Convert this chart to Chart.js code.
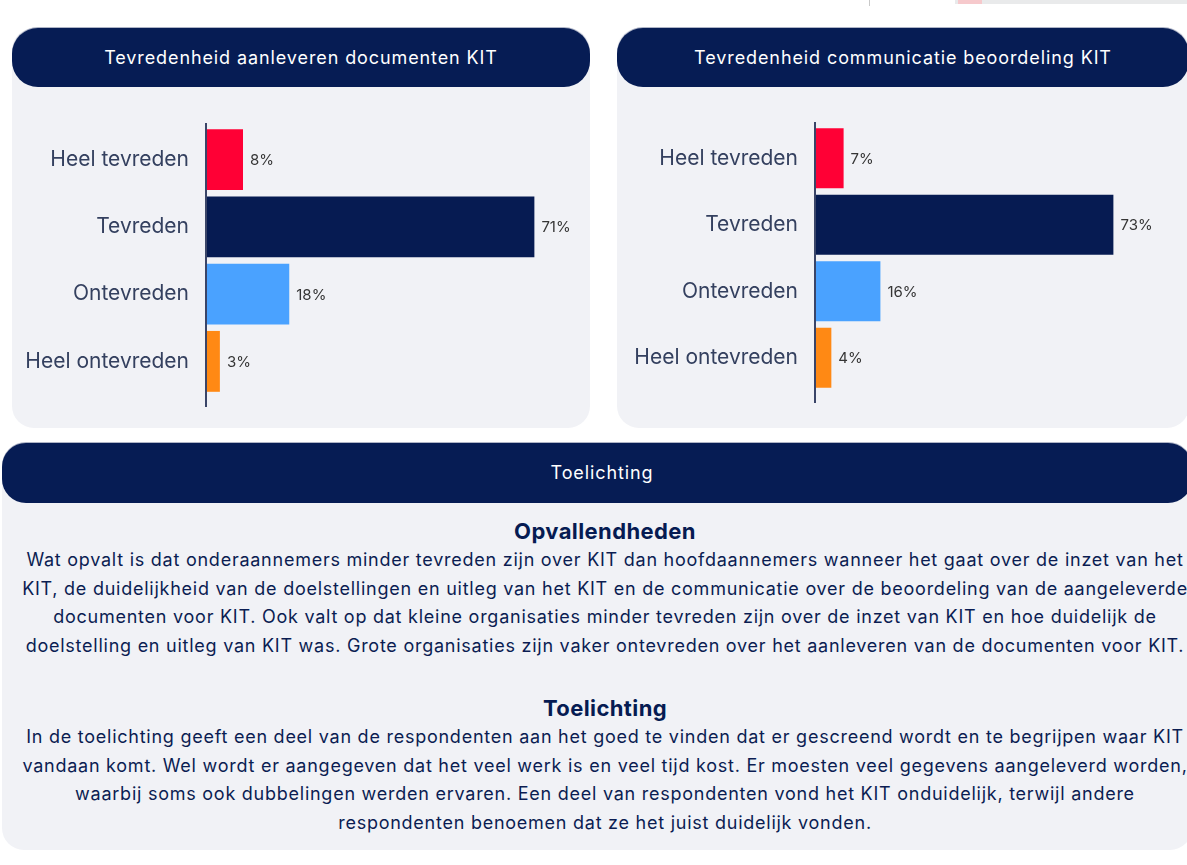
<!DOCTYPE html>
<html lang="nl">
<head>
<meta charset="utf-8">
<title>Tevredenheid KIT</title>
<script src="https://cdn.jsdelivr.net/npm/chart.js@4/dist/chart.umd.min.js"></script>
<style>
  html, body { margin: 0; padding: 0; background: #fff; }
  body { width: 1187px; height: 865px; position: relative; overflow: hidden; font-family: Inter, "Open Sans", sans-serif; }
  .card { position: absolute; background: #f1f2f6; border-radius: 22px; }
  .pill { position: absolute; left: 0; right: 0; top: 0; height: 59px; background: #061c54; border-radius: 26px;
          color: #fff; font-size: 18px; font-weight: 400; letter-spacing: 0.9px; line-height: 59px; text-align: center;
          box-shadow: 0 -1px 0 rgba(120,130,160,0.6); }
  .chartbox { position: absolute; }
  .text { position: absolute; left: 0; right: 0; text-align: center; color: #0b1d52; }
  .text h3 { margin: 0; font-size: 22px; font-weight: 700; letter-spacing: 0.4px; line-height: 30px; color: #061b52; }
  .text div { white-space: nowrap; font-size: 18px; letter-spacing: 0.75px; line-height: 28.5px; }
  .topline { position: absolute; top: 0; height: 4px; }
</style>
</head>
<body>
<div class="topline" style="left:869px;width:1px;height:6px;background:#c9c9c9"></div>
<div class="topline" style="left:955px;width:232px;background:#e9eaeb"></div>
<div class="topline" style="left:958px;width:24px;background:#f6c9cc"></div>

<div class="card" style="left:12px;top:28px;width:578px;height:400px">
  <div class="pill">Tevredenheid aanleveren documenten KIT</div>
</div>
<div class="card" style="left:617px;top:28px;width:572px;height:400px">
  <div class="pill">Tevredenheid communicatie beoordeling KIT</div>
</div>
<div class="chartbox" style="left:12px;top:110px;width:578px;height:300px"><canvas id="chartDocumenten"></canvas></div>
<div class="chartbox" style="left:617px;top:110px;width:572px;height:300px"><canvas id="chartCommunicatie"></canvas></div>

<div class="card" style="left:2px;top:443px;width:1190px;height:407px;border-radius:22px">
  <div class="pill" style="height:60px;line-height:60px;border-radius:24px;padding-left:10px">Toelichting</div>
  <div class="text" style="top:73px;padding-left:16px">
    <h3>Opvallendheden</h3>
    <div>Wat opvalt is dat onderaannemers minder tevreden zijn over KIT dan hoofdaannemers wanneer het gaat over de inzet van het</div>
    <div>KIT, de duidelijkheid van de doelstellingen en uitleg van het KIT en de communicatie over de beoordeling van de aangeleverde</div>
    <div>documenten voor KIT. Ook valt op dat kleine organisaties minder tevreden zijn over de inzet van KIT en hoe duidelijk de</div>
    <div>doelstelling en uitleg van KIT was. Grote organisaties zijn vaker ontevreden over het aanleveren van de documenten voor KIT.</div>
  </div>
  <div class="text" style="top:250px;padding-left:16px">
    <h3>Toelichting</h3>
    <div>In de toelichting geeft een deel van de respondenten aan het goed te vinden dat er gescreend wordt en te begrijpen waar KIT</div>
    <div>vandaan komt. Wel wordt er aangegeven dat het veel werk is en veel tijd kost. Er moesten veel gegevens aangeleverd worden,</div>
    <div>waarbij soms ook dubbelingen werden ervaren. Een deel van respondenten vond het KIT onduidelijk, terwijl andere</div>
    <div>respondenten benoemen dat ze het juist duidelijk vonden.</div>
  </div>
</div>

<script>
(function () {
    'use strict';

    const categories = ['Heel tevreden', 'Tevreden', 'Ontevreden', 'Heel ontevreden'];
    const documentenValues = [8, 71, 18, 3];
    const communicatieValues = [7, 73, 16, 4];
    const barColors = ['#ff0035', '#061b52', '#4aa2ff', '#ff8914'];

    // draws the % next to each bar and the vertical axis line
    const valueLabels = {
        id: 'valueLabels',
        afterDatasetsDraw(chart) {
            const ctx = chart.ctx;
            const meta = chart.getDatasetMeta(0);
            const values = chart.data.datasets[0].data;
            ctx.save();
            ctx.font = '15px Inter, sans-serif';
            ctx.fillStyle = '#353535';
            ctx.textAlign = 'left';
            ctx.textBaseline = 'middle';
            meta.data.forEach((bar, i) => {
                ctx.fillText(values[i] + '%', bar.x + 7, bar.y + 1);
            });
            const area = chart.chartArea;
            ctx.strokeStyle = '#3a4568';
            ctx.lineWidth = 2;
            ctx.beginPath();
            ctx.moveTo(area.left, area.top - 3);
            ctx.lineTo(area.left, area.bottom + 12);
            ctx.stroke();
            ctx.restore();
        }
    };

    function makeChart(id, values, axisWidth, padding) {
        const ctx = document.getElementById(id).getContext('2d');
        return new Chart(ctx, {
            type: 'bar',
            data: {
                labels: categories,
                datasets: [{
                    data: values,
                    backgroundColor: barColors,
                    borderWidth: 0,
                    categoryPercentage: 1,
                    barPercentage: 0.905
                }]
            },
            options: {
                indexAxis: 'y',
                responsive: true,
                maintainAspectRatio: false,
                animation: false,
                layout: { padding: padding },
                scales: {
                    x: { display: false, min: 0, max: 80 },
                    y: {
                        grid: { display: false, drawTicks: false },
                        border: { display: false },
                        afterFit(scale) {
                            scale.width = axisWidth;
                            scale.paddingTop = 0;
                            scale.paddingBottom = 0;
                        },
                        ticks: {
                            padding: 17,
                            color: '#34405f',
                            font: { family: 'Inter, sans-serif', size: 21 }
                        }
                    }
                },
                plugins: {
                    legend: { display: false },
                    tooltip: { enabled: false }
                }
            },
            plugins: [valueLabels]
        });
    }

    makeChart('chartDocumenten', documentenValues, 194, { top: 16, bottom: 15, right: 14, left: 0 });
    makeChart('chartCommunicatie', communicatieValues, 198, { top: 15, bottom: 19, right: 47, left: 0 });
})();
</script>
</body>
</html>
